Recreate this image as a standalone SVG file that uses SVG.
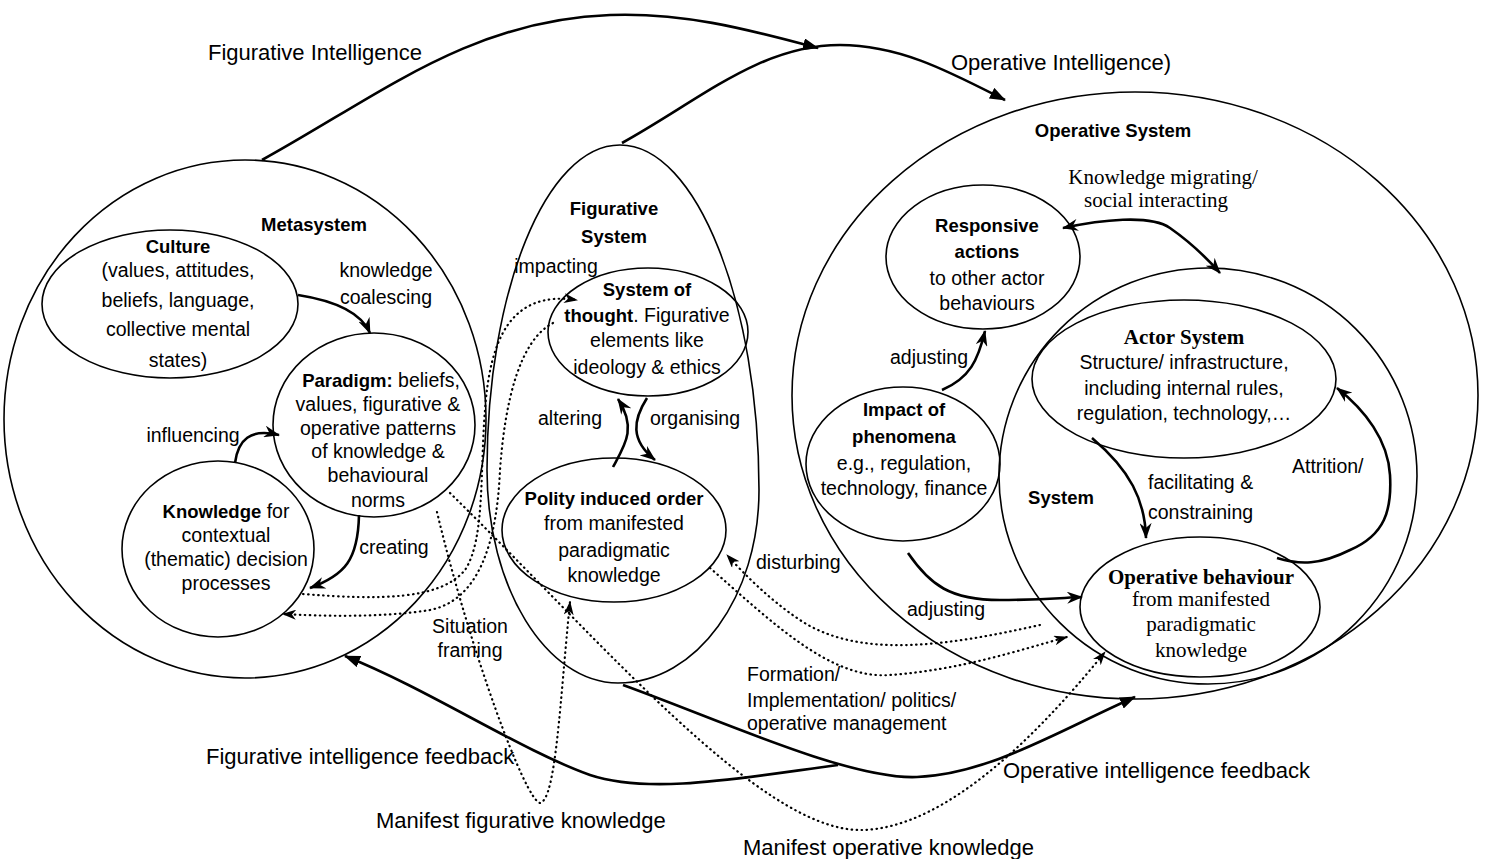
<svg xmlns="http://www.w3.org/2000/svg" width="1486" height="859" viewBox="0 0 1486 859">
<style>
.n{fill:none;stroke:#000;stroke-width:1.6}
.c{fill:none;stroke:#000;stroke-width:2.6}
.d{fill:none;stroke:#000;stroke-width:2.2;stroke-dasharray:0.5 4.5;stroke-linecap:round}
text{fill:#000}
.s{font-family:"Liberation Sans",Arial,sans-serif;font-size:19.5px}
.b{font-family:"Liberation Sans",Arial,sans-serif;font-size:18.5px;font-weight:bold}
.L{font-family:"Liberation Sans",Arial,sans-serif;font-size:22px}
.t{font-family:"Liberation Serif","Times New Roman",serif;font-size:21px}
.tb{font-family:"Liberation Serif","Times New Roman",serif;font-size:21px;font-weight:bold}
.m{text-anchor:middle}
</style>
<defs>
<marker id="ab" viewBox="0 0 16 12" refX="15" refY="6" markerWidth="16" markerHeight="12" orient="auto-start-reverse" markerUnits="userSpaceOnUse"><path d="M0,0 L16,6 L0,12 L5,6 z"/></marker>
<marker id="at" viewBox="0 0 16 12" refX="15" refY="6" markerWidth="16" markerHeight="12" orient="auto" markerUnits="userSpaceOnUse"><path d="M0,0 L16,6 L0,12 z"/></marker>
<marker id="ad" viewBox="0 0 14 10" refX="13" refY="5" markerWidth="14" markerHeight="10" orient="auto" markerUnits="userSpaceOnUse"><path d="M0,0 L14,5 L0,10 L4,5 z"/></marker>
</defs>
<rect width="1486" height="859" fill="#fff"/>

<g id="metasystem">
<ellipse class="n" cx="245" cy="419" rx="241" ry="259"/>
<text class="b m" x="314" y="231">Metasystem</text>
</g>
<g id="culture">
<ellipse class="n" cx="170" cy="304" rx="128" ry="74"/>
<text class="b m" x="178" y="253">Culture</text>
<text class="s m" x="178" y="277">(values, attitudes,</text>
<text class="s m" x="178" y="307">beliefs, language,</text>
<text class="s m" x="178" y="336">collective mental</text>
<text class="s m" x="178" y="367">states)</text>
</g>
<g id="paradigm">
<ellipse class="n" cx="374" cy="425" rx="101" ry="92"/>
<text class="s m" x="381" y="387"><tspan font-weight="bold" font-size="18.5">Paradigm:</tspan> beliefs,</text>
<text class="s m" x="378" y="411">values, figurative &amp;</text>
<text class="s m" x="378" y="435">operative patterns</text>
<text class="s m" x="378" y="458">of knowledge &amp;</text>
<text class="s m" x="378" y="482">behavioural</text>
<text class="s m" x="378" y="507">norms</text>
</g>
<g id="knowledge">
<ellipse class="n" cx="218" cy="549" rx="96" ry="88"/>
<text class="s m" x="226" y="518"><tspan font-weight="bold" font-size="18.5">Knowledge</tspan> for</text>
<text class="s m" x="226" y="542">contextual</text>
<text class="s m" x="226" y="566">(thematic) decision</text>
<text class="s m" x="226" y="590">processes</text>
</g>

<g id="figurative-system">
<path class="n" d="M620,145 C697,145 759,305 759,490 C759,596 697,683 618,683 C546,683 487,587 487,470 C487,291 546,145 620,145 Z"/>
<text class="b m" x="614" y="215">Figurative</text>
<text class="b m" x="614" y="243">System</text>
</g>
<g id="system-of-thought">
<ellipse class="n" cx="648" cy="332" rx="100" ry="64"/>
<text class="b m" x="647" y="296">System of</text>
<text class="s m" x="647" y="322"><tspan font-weight="bold" font-size="18.5">thought</tspan>. Figurative</text>
<text class="s m" x="647" y="347">elements like</text>
<text class="s m" x="647" y="374">ideology &amp; ethics</text>
</g>
<g id="polity">
<ellipse class="n" cx="614" cy="530" rx="112" ry="72"/>
<text class="b m" x="614" y="505">Polity induced order</text>
<text class="s m" x="614" y="530">from manifested</text>
<text class="s m" x="614" y="557">paradigmatic</text>
<text class="s m" x="614" y="582">knowledge</text>
</g>

<g id="operative-system">
<ellipse class="n" cx="1135" cy="395.5" rx="343" ry="303.5"/>
<text class="b m" x="1113" y="137">Operative System</text>
</g>
<g id="responsive">
<ellipse class="n" cx="983" cy="257" rx="97" ry="72"/>
<text class="b m" x="987" y="232">Responsive</text>
<text class="b m" x="987" y="258">actions</text>
<text class="s m" x="987" y="285">to other actor</text>
<text class="s m" x="987" y="310">behaviours</text>
</g>
<g id="impact">
<ellipse class="n" cx="903" cy="464" rx="97" ry="77"/>
<text class="b m" x="904" y="416">Impact of</text>
<text class="b m" x="904" y="443">phenomena</text>
<text class="s m" x="904" y="470">e.g., regulation,</text>
<text class="s m" x="904" y="495">technology, finance</text>
</g>
<g id="system">
<ellipse class="n" cx="1208" cy="476" rx="209" ry="208"/>
<text class="b m" x="1061" y="504">System</text>
</g>
<g id="actor-system">
<ellipse class="n" cx="1184" cy="379" rx="152" ry="79"/>
<text class="tb m" x="1184" y="344">Actor System</text>
<text class="s m" x="1184" y="369">Structure/ infrastructure,</text>
<text class="s m" x="1184" y="395">including internal rules,</text>
<text class="s m" x="1184" y="420">regulation, technology,…</text>
</g>
<g id="operative-behaviour">
<ellipse class="n" cx="1200" cy="607" rx="120" ry="70"/>
<text class="tb m" x="1201" y="584">Operative behaviour</text>
<text class="t m" x="1201" y="606">from manifested</text>
<text class="t m" x="1201" y="631">paradigmatic</text>
<text class="t m" x="1201" y="657">knowledge</text>
</g>

<g id="connectors">
<path class="c" d="M262,160 C380,95 470,20 610,15 C690,12 760,33 818,48" marker-end="url(#at)"/>
<path class="c" d="M622,143 C700,100 760,45 840,45 C900,45 950,72 1005,100" marker-end="url(#at)"/>
<path class="c" d="M298,295 C330,300 360,310 370,333" marker-end="url(#ab)"/>
<path class="c" d="M235,463 C238,440 250,428 279,435" marker-end="url(#ab)"/>
<path class="c" d="M359,515 C358,560 345,575 310,588" marker-end="url(#ab)"/>
<path class="c" d="M613,467 C625,445 637,428 618,399" marker-end="url(#ab)"/>
<path class="c" d="M647,398 C633,420 630,440 655,460" marker-end="url(#ab)"/>
<path class="c" d="M1063,228 C1100,220 1150,214 1170,228 C1190,242 1205,256 1220,273" marker-start="url(#ab)" marker-end="url(#ab)"/>
<path class="c" d="M942,390 C970,378 978,360 985,331" marker-end="url(#ab)"/>
<path class="c" d="M908,553 C930,585 950,600 1000,600 C1040,600 1060,598 1082,597" marker-end="url(#ab)"/>
<path class="c" d="M1092,438 C1130,470 1145,500 1146,538" marker-end="url(#ab)"/>
<path class="c" d="M1277,558 C1300,565 1320,565 1350,550 C1385,535 1392,510 1390,475 C1388,440 1365,410 1337,388" marker-end="url(#ab)"/>
<path class="c" d="M623,685 C720,720 850,780 917,777 C990,774 1060,730 1135,697" marker-end="url(#at)"/>
<path class="c" d="M838,765 C740,778 650,795 590,775 C520,750 430,690 345,656" marker-end="url(#at)"/>
<path class="d" d="M303,594 C380,600 440,600 465,570 C485,540 480,470 485,410 C490,340 510,290 577,300" marker-end="url(#ad)"/>
<path class="d" d="M553,323 C520,340 505,400 500,470 C497,540 480,600 430,610 C380,618 320,616 283,614" marker-end="url(#ad)"/>
<path class="d" d="M450,493 C600,640 760,830 860,830 C950,830 1050,720 1105,652" marker-end="url(#ad)"/>
<path class="d" d="M437,512 C470,650 525,800 540,803 C556,800 560,700 570,602" marker-end="url(#ad)"/>
<path class="d" d="M1040,625 C950,645 860,660 800,620 C770,600 745,575 727,555" marker-end="url(#ad)"/>
<path class="d" d="M710,568 C770,620 830,680 890,675 C960,670 1020,650 1067,637" marker-end="url(#ad)"/>
</g>

<g id="labels">
<text class="L" x="208" y="60">Figurative Intelligence</text>
<text class="L" x="951" y="70">Operative Intelligence)</text>
<text class="t m" x="1163" y="184">Knowledge migrating/</text>
<text class="t m" x="1156" y="207">social interacting</text>
<text class="s m" x="386" y="277">knowledge</text>
<text class="s m" x="386" y="304">coalescing</text>
<text class="s m" x="193" y="442">influencing</text>
<text class="s m" x="394" y="554">creating</text>
<text class="s m" x="556" y="273">impacting</text>
<text class="s m" x="570" y="425">altering</text>
<text class="s m" x="695" y="425">organising</text>
<text class="s m" x="929" y="364">adjusting</text>
<text class="s m" x="946" y="616">adjusting</text>
<text class="s" x="1148" y="489">facilitating &amp;</text>
<text class="s" x="1148" y="519">constraining</text>
<text class="s" x="1292" y="473">Attrition/</text>
<text class="s" x="756" y="569">disturbing</text>
<text class="s m" x="470" y="633">Situation</text>
<text class="s m" x="470" y="657">framing</text>
<text class="s" x="747" y="681">Formation/</text>
<text class="s" x="747" y="707">Implementation/ politics/</text>
<text class="s" x="747" y="730">operative management</text>
<text class="L" x="206" y="764">Figurative intelligence feedback</text>
<text class="L" x="1003" y="778">Operative intelligence feedback</text>
<text class="L" x="376" y="828">Manifest figurative knowledge</text>
<text class="L" x="743" y="855">Manifest operative knowledge</text>
</g>
</svg>
